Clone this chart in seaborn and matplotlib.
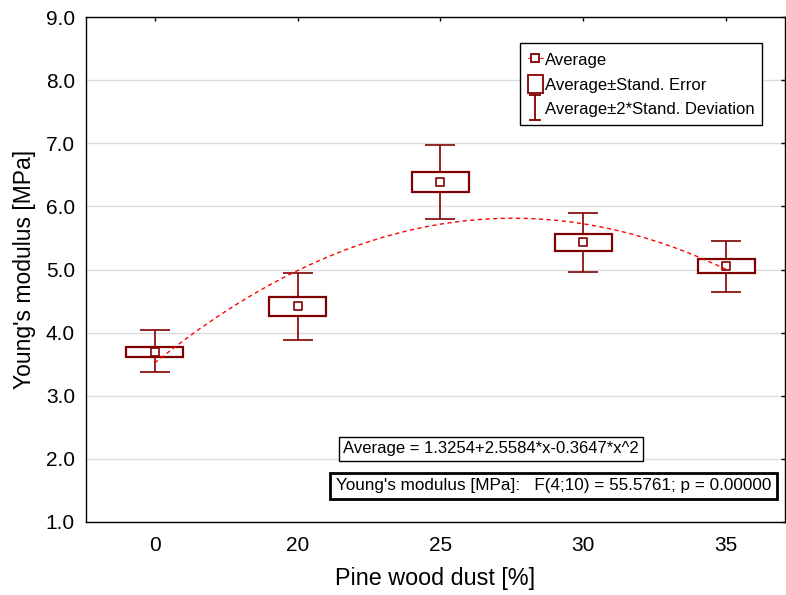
import numpy as np
import pandas as pd
import matplotlib.pyplot as plt
import seaborn as sns
from matplotlib.lines import Line2D
from matplotlib.patches import Patch
from matplotlib.path import Path

# Datos
dust = ["0", "20", "25", "30", "35"]
mean = [3.70, 4.42, 6.38, 5.43, 5.05]
se_low = [3.61, 4.27, 6.22, 5.30, 4.94]
se_high = [3.78, 4.57, 6.54, 5.56, 5.16]
sd_low = [3.37, 3.89, 5.80, 4.96, 4.64]
sd_high = [4.04, 4.94, 6.97, 5.90, 5.45]
fit_coef = [1.3254, 2.5584, -0.3647]

sns.set_theme(style="white")
plt.rcParams['font.family'] = ['Liberation Sans', 'DejaVu Sans']
plt.rcParams['text.color'] = 'black'
plt.rcParams['axes.labelcolor'] = 'black'
plt.rcParams['xtick.color'] = 'black'
plt.rcParams['ytick.color'] = 'black'

maroon = "#800000"
pos = np.arange(len(dust))
df = pd.DataFrame({"pos": pos, "mean": mean})

fig, ax = plt.subplots(figsize=(7.86, 5.95), dpi=100)
fig.subplots_adjust(left=0.1094, right=0.9987, top=0.9714, bottom=0.1227)

# Bigotes (±2*desv. estándar)
ax.errorbar(pos, mean,
            yerr=[np.array(mean) - np.array(sd_low), np.array(sd_high) - np.array(mean)],
            fmt="none", ecolor=maroon, elinewidth=1.2, capsize=10.5, capthick=1.2, zorder=2)

# Cajas (±error estándar)
ax.bar(pos, np.array(se_high) - np.array(se_low), bottom=se_low, width=0.4,
       facecolor="white", edgecolor=maroon, linewidth=1.6, zorder=3)

# Medias
sns.scatterplot(data=df, x="pos", y="mean", marker="s", s=32, facecolor="white",
                edgecolor=maroon, linewidth=1.2, ax=ax, zorder=4)

# Curva de ajuste
xf = np.linspace(1, 5, 200)
yf = fit_coef[0] + fit_coef[1] * xf + fit_coef[2] * xf ** 2
sns.lineplot(x=xf - 1, y=yf, ax=ax, color="red", linewidth=1, zorder=5)
ax.lines[-1].set_dashes((3, 2.5))

ax.set_xlim(-0.48, 4.41)
ax.set_ylim(1, 9)
ax.set_xticks(pos)
ax.set_xticklabels(dust)
ax.set_yticks(np.arange(1, 10))
ax.set_yticklabels([f"{v:.1f}" for v in np.arange(1, 10)])
ax.yaxis.grid(True, color="#dcdcdc", linewidth=1)
ax.set_axisbelow(True)
ax.tick_params(direction="in", length=3, width=1, color="black", top=True, right=True,
               labelsize=15, labelcolor="black")
ax.tick_params(axis="x", pad=10)
ax.tick_params(axis="y", pad=8)
for s in ax.spines.values():
    s.set_color("black")
    s.set_linewidth(1)
ax.set_xlabel("Pine wood dust [%]", fontsize=16.8, labelpad=9)
ax.set_ylabel("Young's modulus [MPa]", fontsize=16.5, labelpad=7)

# Leyenda
i_marker = Path([(-0.5, 1), (0.5, 1), (0, 1), (0, -1), (-0.5, -1), (0.5, -1)],
                [Path.MOVETO, Path.LINETO, Path.MOVETO, Path.LINETO, Path.MOVETO, Path.LINETO])
handles = [
    Line2D([], [], color="red", linestyle="--", linewidth=0.8, marker="s", markersize=6,
           markerfacecolor="white", markeredgecolor=maroon, markeredgewidth=1.3),
    Patch(facecolor="white", edgecolor=maroon, linewidth=1.3),
    Line2D([], [], linestyle="none", marker=i_marker, markersize=18, color=maroon,
           markeredgewidth=1.3),
]
labels = ["Average", "Average±Stand. Error", "Average±2*Stand. Deviation"]
leg = ax.legend(handles, labels, loc="upper left", bbox_to_anchor=(0.621, 0.948),
                fontsize=12, frameon=True, fancybox=False, framealpha=1,
                edgecolor="black", handlelength=0.9, handleheight=1.2, handletextpad=0.15,
                borderpad=0.45, labelspacing=0.45, borderaxespad=0)
leg.get_frame().set_linewidth(1)

# Cuadros de texto
ax.text(0.579, 0.1446, "Average = 1.3254+2.5584*x-0.3647*x^2", transform=ax.transAxes,
        ha="center", va="center", fontsize=12,
        bbox=dict(boxstyle="square,pad=0.25", facecolor="white", edgecolor="black", linewidth=1))
ax.text(0.669, 0.0713, "Young's modulus [MPa]:   F(4;10) = 55.5761; p = 0.00000",
        transform=ax.transAxes, ha="center", va="center", fontsize=12.3,
        bbox=dict(boxstyle="square,pad=0.35", facecolor="white", edgecolor="black", linewidth=2))

plt.savefig("out.png", dpi=100)
